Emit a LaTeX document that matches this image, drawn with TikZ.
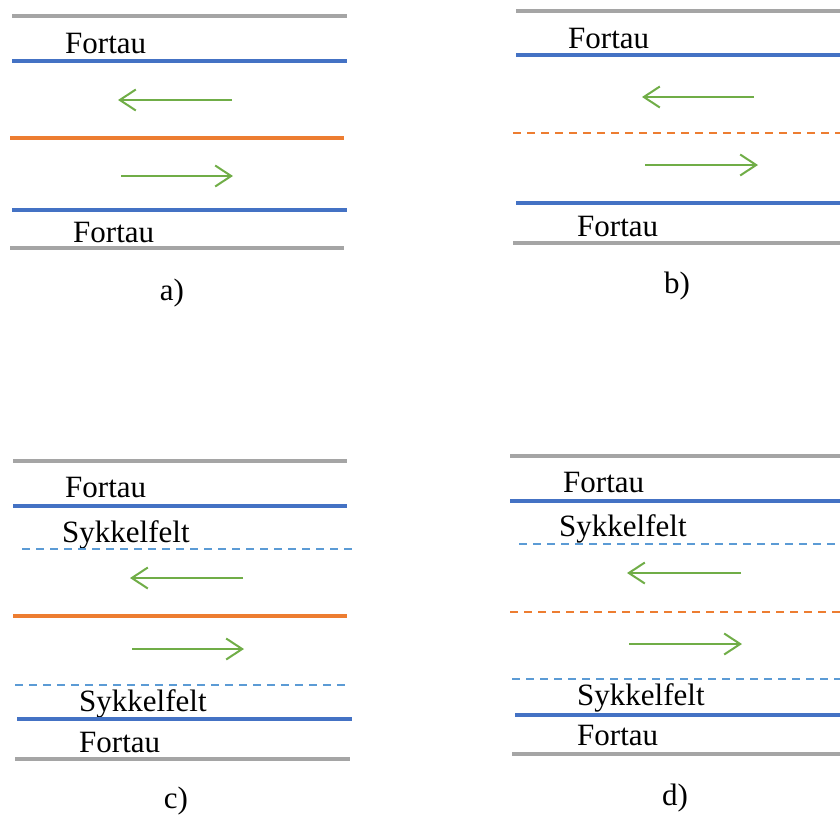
\documentclass[tikz,border=0pt]{standalone}
\usepackage{fontspec}
\setmainfont{Liberation Serif}
\usetikzlibrary{arrows.meta}
\definecolor{kantgraa}{HTML}{A5A5A5}
\definecolor{kantblaa}{HTML}{4472C4}
\definecolor{sykkelblaa}{HTML}{5B9BD5}
\definecolor{midtoransje}{HTML}{ED7D31}
\definecolor{pilgronn}{HTML}{70AD47}
\tikzset{
  kant/.style={kantgraa,line width=3.6pt},
  fortaukant/.style={kantblaa,line width=3.6pt},
  midtlinje/.style={midtoransje,line width=3.6pt},
  midtstiplet/.style={midtoransje,line width=2pt,dash pattern=on 8pt off 6pt},
  sykkellinje/.style={sykkelblaa,line width=1.6pt,dash pattern=on 8pt off 6pt},
  retning/.style={pilgronn,line width=2pt,-{Straight Barb[length=16pt,width=21pt]}},
  tekst/.style={anchor=base west,inner sep=0pt,font=\fontsize{31}{36}\selectfont},
  merke/.style={anchor=base,inner sep=0pt,font=\fontsize{31}{36}\selectfont}
}
\begin{document}
\begin{tikzpicture}[x=1pt,y=-1pt]
\useasboundingbox (0,0) rectangle (840,814);
% a)
\draw[kant] (12,16) -- (347,16);
\node[tekst] (fa1) at (65,53) {Fortau};
\draw[fortaukant] (12,61) -- (347,61);
\draw[retning] (232,100) -- (118,100);
\draw[midtlinje] (10,138) -- (344,138);
\draw[retning] (121,176) -- (233,176);
\draw[fortaukant] (12,210) -- (347,210);
\node[tekst] (fa2) at (73,242) {Fortau};
\draw[kant] (10,248) -- (344,248);
\node[merke] (la) at (172,300) {a)};
% b)
\draw[kant] (516,11) -- (840,11);
\node[tekst] (fb1) at (568,48) {Fortau};
\draw[fortaukant] (516,55) -- (840,55);
\draw[retning] (754,97) -- (642,97);
\draw[midtstiplet] (513,133) -- (840,133);
\draw[retning] (645,165) -- (758,165);
\draw[fortaukant] (516,203) -- (840,203);
\node[tekst] (fb2) at (577,236) {Fortau};
\draw[kant] (513,243) -- (840,243);
\node[merke] (lb) at (677,293) {b)};
% c)
\draw[kant] (13,461) -- (347,461);
\node[tekst] (fc1) at (65,497) {Fortau};
\draw[fortaukant] (13,506) -- (347,506);
\node[tekst] (sc1) at (62,542) {Sykkelfelt};
\draw[sykkellinje] (22,549) -- (352,549);
\draw[retning] (243,578) -- (130,578);
\draw[midtlinje] (13,616) -- (347,616);
\draw[retning] (132,649) -- (244,649);
\draw[sykkellinje] (15,685) -- (345,685);
\node[tekst] (sc2) at (79,711) {Sykkelfelt};
\draw[fortaukant] (17,719) -- (352,719);
\node[tekst] (fc2) at (79,752) {Fortau};
\draw[kant] (15,759) -- (350,759);
\node[merke] (lc) at (176,808) {c)};
% d)
\draw[kant] (510,456) -- (840,456);
\node[tekst] (fd1) at (563,492) {Fortau};
\draw[fortaukant] (510,501) -- (840,501);
\node[tekst] (sd1) at (559,536) {Sykkelfelt};
\draw[sykkellinje] (519,544) -- (840,544);
\draw[retning] (741,573) -- (627,573);
\draw[midtstiplet] (510,612) -- (840,612);
\draw[retning] (629,644) -- (742,644);
\draw[sykkellinje] (512,679) -- (840,679);
\node[tekst] (sd2) at (577,705) {Sykkelfelt};
\draw[fortaukant] (515,715) -- (840,715);
\node[tekst] (fd2) at (577,745) {Fortau};
\draw[kant] (512,754) -- (840,754);
\node[merke] (ld) at (675,805) {d)};
\end{tikzpicture}
\end{document}
